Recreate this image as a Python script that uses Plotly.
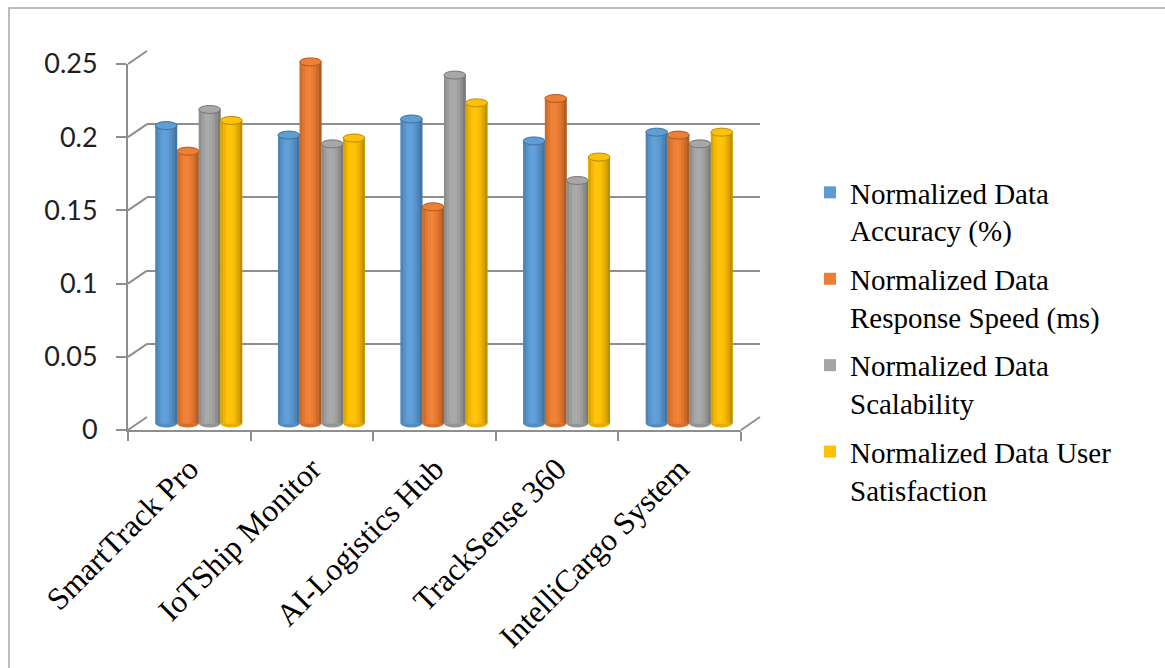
import plotly.graph_objects as go

# ---- data -------------------------------------------------------------
CATEGORIES = ["SmartTrack Pro", "IoTShip Monitor", "AI-Logistics Hub",
              "TrackSense 360", "IntelliCargo System"]
SERIES_NAMES = ["Normalized Data<br>Accuracy (%)",
                "Normalized Data<br>Response Speed (ms)",
                "Normalized Data<br>Scalability",
                "Normalized Data User<br>Satisfaction"]
accuracy = [0.2035, 0.197, 0.208, 0.193, 0.199]
response_speed = [0.186, 0.247, 0.148, 0.222, 0.197]
scalability = [0.2145, 0.191, 0.238, 0.166, 0.191]
user_satisfaction = [0.207, 0.195, 0.219, 0.182, 0.199]
Y_TICKS = [0, 0.05, 0.1, 0.15, 0.2, 0.25]
Y_TICK_TEXT = ["0", "0.05", "0.1", "0.15", "0.2", "0.25"]

SERIES = [accuracy, response_speed, scalability, user_satisfaction]
COLORS = ["#5B9BD5", "#ED7D31", "#A5A5A5", "#FFC000"]

# ---- page / perspective geometry (pixels) -----------------------------
W, H = 1165, 668
Y_MAX = 0.25
# (left, right, y of value 0, y of value Y_MAX) for each depth plane
BACK = (147, 760, 417, 51)
FRONT = (128, 741, 430, 64)
MID = tuple((a + b) / 2 for a, b in zip(BACK, FRONT))

AXIS_GRAY = "#8E8E8E"
SERIF = "Liberation Serif, Times New Roman, serif"
SANS = "Lato, Open Sans, sans-serif"


def fx(p):
    return p / W


def fy(p):
    return 1 - p / H


def plane_py(plane, v):
    return plane[2] + (plane[3] - plane[2]) * v / Y_MAX


def shade(hex_color, f):
    r, g, b = (int(hex_color[i:i + 2], 16) for i in (1, 3, 5))
    if f <= 1:
        r, g, b = r * f, g * f, b * f
    else:
        t = f - 1
        r, g, b = r + (255 - r) * t, g + (255 - g) * t, b + (255 - b) * t
    return "rgb(%d,%d,%d)" % (round(r), round(g), round(b))


# bar layout inside each category (in category units)
N_SER = len(SERIES)
BAR_W = 0.177
GROUP_W = BAR_W * N_SER
STRIP_PROFILE = [0.86, 0.95, 1.03, 1.06, 1.02, 0.95, 0.86, 0.74]
N_STRIP = len(STRIP_PROFILE)
CAP_PX = 4.0
MID_LO, MID_HI = -0.012, 0.262
cap_h = CAP_PX * Y_MAX / (MID[2] - MID[3])

idx = list(range(len(CATEGORIES)))
fig = go.Figure()

# back wall (gridlines) — first subplot so it stays behind the columns
fig.add_trace(go.Scatter(x=idx, y=[None] * len(idx), mode="markers",
                         marker=dict(opacity=0), hoverinfo="skip",
                         showlegend=False, xaxis="x", yaxis="y"))

shapes = []
for j, (vals, col, name) in enumerate(zip(SERIES, COLORS, SERIES_NAMES)):
    off = -GROUP_W / 2 + j * BAR_W
    # full column in the series colour (legend + hover)
    fig.add_trace(go.Bar(
        x=idx, y=vals, name=name, marker=dict(color=col, line=dict(width=0)),
        offset=off, width=BAR_W, xaxis="x2", yaxis="y2",
        legendgroup="s%d" % j, customdata=CATEGORIES,
        hovertemplate="%{customdata}<br>%{y:.3f}<extra></extra>"))
    # cylinder shading strips
    sw = BAR_W / N_STRIP
    for k, f in enumerate(STRIP_PROFILE):
        fig.add_trace(go.Bar(
            x=idx, y=vals, marker=dict(color=shade(col, f), line=dict(width=0)),
            offset=off + k * sw, width=sw * 1.02, xaxis="x2", yaxis="y2",
            showlegend=False, legendgroup="s%d" % j, hoverinfo="skip"))
    # elliptical top and bottom of each cylinder
    for i, v in zip(idx, vals):
        x0, x1 = i + off, i + off + BAR_W
        shapes.append(dict(type="circle", xref="x2", yref="y2",
                           x0=x0, x1=x1, y0=v - cap_h, y1=v + cap_h,
                           fillcolor=shade(col, 1.02),
                           line=dict(color=shade(col, 0.72), width=1),
                           layer="above"))
        shapes.append(dict(type="circle", xref="x2", yref="y2",
                           x0=x0, x1=x1, y0=-cap_h, y1=cap_h,
                           fillcolor=shade(col, 0.9), line=dict(width=0),
                           layer="below"))

# front axes (tick labels, axis lines)
fig.add_trace(go.Scatter(x=CATEGORIES, y=[None] * len(CATEGORIES),
                         mode="markers", marker=dict(opacity=0),
                         hoverinfo="skip", showlegend=False,
                         xaxis="x3", yaxis="y3"))

# side wall and floor edges joining the front axis to the back wall
for v in Y_TICKS:
    shapes.append(dict(type="line", xref="paper", yref="paper",
                       x0=fx(FRONT[0]), y0=fy(plane_py(FRONT, v)),
                       x1=fx(BACK[0]), y1=fy(plane_py(BACK, v)),
                       line=dict(color=AXIS_GRAY, width=2), layer="below"))
shapes.append(dict(type="line", xref="paper", yref="paper",
                   x0=fx(FRONT[1]), y0=fy(plane_py(FRONT, 0)),
                   x1=fx(BACK[1]), y1=fy(plane_py(BACK, 0)),
                   line=dict(color=AXIS_GRAY, width=2), layer="below"))
# chart frame
shapes.append(dict(type="rect", xref="paper", yref="paper",
                   x0=fx(9), y0=fy(8), x1=1.05, y1=-0.05,
                   line=dict(color="#A6A6A6", width=1.5), layer="below"))

hidden = dict(visible=False, fixedrange=True, automargin=False)
fig.update_layout(
    template="none",
    width=W, height=H, autosize=False,
    margin=dict(l=0, r=0, t=0, b=0, pad=0, autoexpand=False),
    paper_bgcolor="white", plot_bgcolor="rgba(0,0,0,0)",
    barmode="overlay", shapes=shapes,
    xaxis=dict(hidden, range=[-0.5, 4.5], domain=[fx(BACK[0]), fx(BACK[1])],
               anchor="y"),
    yaxis=dict(range=[0, Y_MAX], domain=[fy(BACK[2]), fy(BACK[3])],
               anchor="x", tickvals=Y_TICKS, showticklabels=False,
               showgrid=True, gridcolor=AXIS_GRAY, gridwidth=2,
               zeroline=False, showline=False, ticks="", fixedrange=True,
               automargin=False),
    xaxis2=dict(hidden, range=[-0.5, 4.5], domain=[fx(MID[0]), fx(MID[1])],
                anchor="y2"),
    yaxis2=dict(hidden, range=[MID_LO, MID_HI],
                domain=[fy(plane_py(MID, MID_LO)), fy(plane_py(MID, MID_HI))],
                anchor="x2"),
    xaxis3=dict(type="category", categoryarray=CATEGORIES,
                range=[-0.5, len(CATEGORIES) - 0.5],
                domain=[fx(FRONT[0]), fx(FRONT[1])], anchor="y3",
                showline=True, linecolor=AXIS_GRAY, linewidth=2,
                ticks="outside", ticklen=9, tickwidth=2, tickcolor=AXIS_GRAY,
                tickson="boundaries", tickangle=-45, showgrid=False,
                ticklabelstandoff=6,
                zeroline=False, fixedrange=True, automargin=False,
                tickfont=dict(family=SERIF, size=31.5, color="#000000")),
    yaxis3=dict(range=[0, Y_MAX], domain=[fy(FRONT[2]), fy(FRONT[3])],
                anchor="x3", tickvals=Y_TICKS, ticktext=Y_TICK_TEXT,
                showline=True, linecolor=AXIS_GRAY, linewidth=2,
                ticks="outside", ticklen=10, tickwidth=2, tickcolor=AXIS_GRAY,
                ticklabelstandoff=13, showgrid=False, zeroline=False,
                fixedrange=True, automargin=False,
                tickfont=dict(family=SANS, size=27, color="#1F1F1F")),
    legend=dict(x=fx(810), y=fy(167), xanchor="left", yanchor="top",
                font=dict(family=SERIF, size=29, color="#000000"),
                traceorder="grouped", tracegroupgap=8, valign="top",
                bgcolor="rgba(0,0,0,0)", borderwidth=0),
    showlegend=True,
)

fig.write_html("out.html")
